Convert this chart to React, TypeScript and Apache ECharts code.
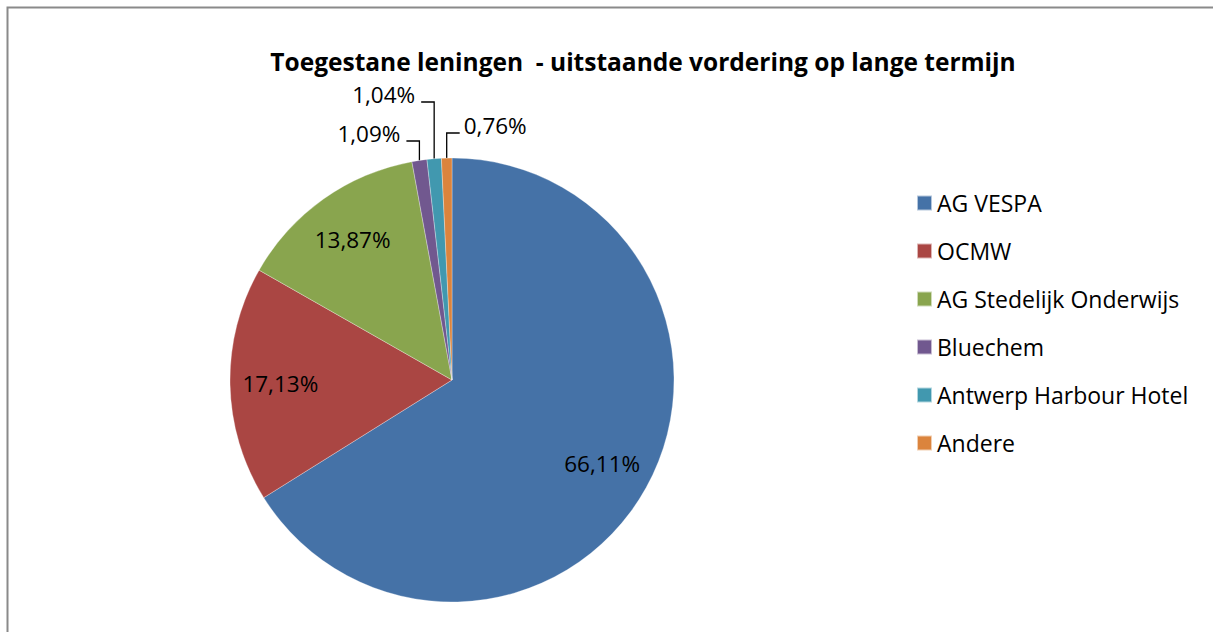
import React, { useEffect, useRef } from "react";
import * as echarts from "echarts";

const TITLE = "Toegestane leningen  - uitstaande vordering op lange termijn";
const categories = [
  "AG VESPA",
  "OCMW",
  "AG Stedelijk Onderwijs",
  "Bluechem",
  "Antwerp Harbour Hotel",
  "Andere",
];
const shares = [66.11, 17.13, 13.87, 1.09, 1.04, 0.76];
const colors = ["#4572A7", "#AA4643", "#89A54E", "#71588F", "#4198AF", "#DB843D"];

const FONT = "'Open Sans', sans-serif";
const CX = 452;
const CY = 380;
const R = 222;
const INSIDE_COUNT = 3;
const SMALL_LABEL: Record<number, { lineY: number; run: number }> = {
  3: { lineY: 141, run: -13 },
  4: { lineY: 102, run: -13 },
  5: { lineY: 133, run: 13 },
};

const fmt = (v: number) => v.toFixed(2).replace(".", ",") + "%";

export default function App() {
  const ref = useRef<HTMLDivElement>(null);
  useEffect(() => {
    if (!ref.current) return;
    const chart = echarts.init(ref.current, null, { renderer: "svg" });
    const total = shares.reduce((a, b) => a + b, 0);
    const edgePoint = (idx: number) => {
      let before = 0;
      for (let i = 0; i < idx; i++) before += shares[i];
      const mid = ((before + shares[idx] / 2) / total) * Math.PI * 2;
      return [CX + R * Math.sin(mid), CY - R * Math.cos(mid)];
    };
    chart.setOption({
      animation: false,
      backgroundColor: "#ffffff",
      title: {
        text: TITLE,
        left: 638,
        textAlign: "center",
        top: 44,
        textStyle: { fontFamily: FONT, fontSize: 24.5, fontWeight: "bold", color: "#000" },
      },
      legend: {
        orient: "vertical",
        left: 911,
        top: 186,
        itemWidth: 15,
        itemHeight: 15,
        itemGap: 24,
        icon: "rect",
        data: categories,
        textStyle: { fontFamily: FONT, fontSize: 23, color: "#000", lineHeight: 24 },
      },
      graphic: [
        {
          type: "rect",
          shape: { x: 7.5, y: 7.5, width: 1300, height: 700 },
          style: { fill: "none", stroke: "#8a8a8a", lineWidth: 2 },
          silent: true,
        },
      ],
      series: [
        {
          type: "pie",
          center: [CX, CY],
          radius: [0, R],
          startAngle: 90,
          clockwise: true,
          avoidLabelOverlap: false,
          itemStyle: { borderColor: "rgba(255,255,255,0.6)", borderWidth: 0.5 },
          emphasis: { disabled: true },
          label: {
            show: true,
            position: "outside",
            formatter: (p: any) => fmt(p.value),
            fontFamily: FONT,
            fontSize: 22.5,
            color: "#000",
          },
          labelLine: { show: true, length: 10, length2: 10, lineStyle: { color: "#000", width: 1.3 } },
          labelLayout: (params: any) => {
            const cfg = SMALL_LABEL[params.dataIndex];
            if (!cfg) return {};
            const p0 =
              params.labelLinePoints && params.labelLinePoints[0]
                ? params.labelLinePoints[0]
                : edgePoint(params.dataIndex);
            const ex = p0[0];
            const ey = p0[1];
            const endX = ex + cfg.run;
            return {
              x: cfg.run < 0 ? endX - 6 : endX + 4,
              y: cfg.lineY - 8,
              align: cfg.run < 0 ? "right" : "left",
              verticalAlign: "middle",
              labelLinePoints: [
                [ex, ey],
                [ex, cfg.lineY],
                [endX, cfg.lineY],
              ],
            };
          },
          data: categories.map((name, i) => ({
            name,
            value: shares[i],
            itemStyle: { color: colors[i] },
            label: { show: i >= INSIDE_COUNT },
            labelLine: { show: i >= INSIDE_COUNT },
          })),
        },
        {
          type: "pie",
          center: [CX, CY],
          radius: [R * 0.52, R],
          startAngle: 90,
          clockwise: true,
          silent: true,
          emphasis: { disabled: true },
          itemStyle: { color: "transparent", borderWidth: 0 },
          label: {
            show: true,
            position: "inside",
            formatter: (p: any) => fmt(p.value),
            fontFamily: FONT,
            fontSize: 22.5,
            color: "#000",
          },
          labelLine: { show: false },
          data: categories.map((name, i) => ({
            name,
            value: shares[i],
            label: { show: i < INSIDE_COUNT },
          })),
        },
      ],
    });
    return () => chart.dispose();
  }, []);
  return (
    <div
      ref={ref}
      style={{ position: "fixed", left: 0, top: 0, width: 1213, height: 632, background: "#fff" }}
    />
  );
}
